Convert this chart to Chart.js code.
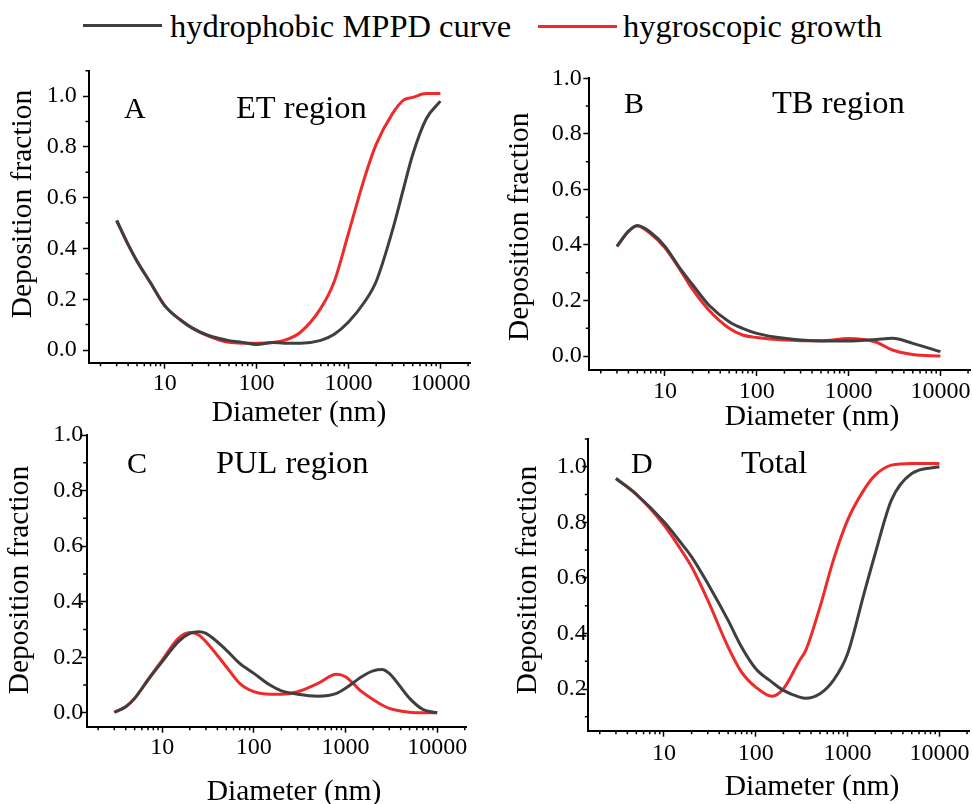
<!DOCTYPE html>
<html>
<head>
<meta charset="utf-8">
<script src="https://cdn.jsdelivr.net/npm/chart.js@4.4.1/dist/chart.umd.min.js"></script>
<style>
body { margin: 0; background: #fff; width: 973px; height: 804px; position: relative; overflow: hidden; }
canvas { position: absolute; left: 0; top: 0; }
.key { position: absolute; height: 3.5px; }
.keytext { position: absolute; font-family: 'Liberation Serif', 'Times New Roman', serif; font-size: 32.5px; line-height: 32.5px; color: #000; white-space: nowrap; }
</style>
</head>
<body>
<div id="legend"></div>
<canvas id="cA" width="973" height="804"></canvas>
<canvas id="cB" width="973" height="804"></canvas>
<canvas id="cC" width="973" height="804"></canvas>
<canvas id="cD" width="973" height="804"></canvas>
<script>
var seriesNames = ["hydrophobic MPPD curve", "hygroscopic growth"];
var seriesColors = ["#3f3f3f", "#ee2a2a"];

// A - ET region
var diamA = [3, 4, 5, 7, 10, 15, 20, 30, 50, 70, 100, 150, 200, 300, 500, 700, 1000, 1500, 2000, 3000, 4000, 5000, 7000, 10000];
var etHydrophobic = [0.51, 0.415, 0.35, 0.265, 0.175, 0.117, 0.086, 0.057, 0.037, 0.03, 0.022, 0.03, 0.027, 0.027, 0.038, 0.062, 0.11, 0.19, 0.27, 0.47, 0.64, 0.77, 0.91, 0.98];
var etHygroscopic = [0.51, 0.415, 0.35, 0.265, 0.175, 0.117, 0.086, 0.055, 0.03, 0.027, 0.027, 0.03, 0.038, 0.07, 0.165, 0.27, 0.46, 0.68, 0.81, 0.93, 0.985, 0.995, 1.01, 1.01];

// B - TB region
var diamB = [3, 4, 5, 7, 10, 15, 20, 30, 50, 70, 100, 200, 500, 1000, 2000, 3000, 5000, 10000];
var tbHydrophobic = [0.395, 0.449, 0.47, 0.445, 0.395, 0.31, 0.257, 0.184, 0.124, 0.1, 0.082, 0.064, 0.054, 0.054, 0.06, 0.064, 0.046, 0.016];
var tbHygroscopic = [0.395, 0.449, 0.468, 0.44, 0.39, 0.305, 0.24, 0.166, 0.1, 0.076, 0.067, 0.058, 0.055, 0.063, 0.05, 0.022, 0.006, 0.0];

// C - PUL region
var diamC = [3, 4, 5, 7, 10, 15, 20, 25, 30, 50, 70, 100, 150, 200, 300, 500, 800, 1000, 1500, 2000, 2500, 3000, 5000, 7000, 10000];
var pulHydrophobic = [0.002, 0.022, 0.052, 0.118, 0.184, 0.256, 0.286, 0.292, 0.286, 0.226, 0.178, 0.142, 0.1, 0.079, 0.067, 0.06, 0.07, 0.088, 0.13, 0.151, 0.156, 0.142, 0.052, 0.012, 0.0];
var pulHygroscopic = [0.002, 0.022, 0.052, 0.12, 0.19, 0.268, 0.289, 0.28, 0.256, 0.166, 0.106, 0.076, 0.067, 0.067, 0.076, 0.106, 0.139, 0.13, 0.076, 0.048, 0.028, 0.016, 0.002, 0.0, 0.0];

// D - Total
var diamD = [3, 5, 10, 15, 20, 30, 50, 70, 100, 150, 200, 300, 350, 500, 700, 1000, 1500, 2000, 3000, 5000, 10000];
var totHydrophobic = [0.958, 0.901, 0.802, 0.73, 0.676, 0.58, 0.447, 0.351, 0.273, 0.225, 0.195, 0.171, 0.167, 0.183, 0.231, 0.327, 0.54, 0.688, 0.88, 0.976, 1.0];
var totHygroscopic = [0.958, 0.901, 0.79, 0.706, 0.64, 0.52, 0.351, 0.261, 0.207, 0.174, 0.201, 0.303, 0.339, 0.495, 0.664, 0.808, 0.916, 0.97, 1.006, 1.012, 1.012];

// ticks
var xMajor = [10, 100, 1000, 10000];
var xMinor = [2, 3, 4, 5, 6, 7, 8, 9, 20, 30, 40, 50, 60, 70, 80, 90, 200, 300, 400, 500, 600, 700, 800, 900, 2000, 3000, 4000, 5000, 6000, 7000, 8000, 9000, 20000];
var yMajor = [0.0, 0.2, 0.4, 0.6, 0.8, 1.0];
var yMajorD = [0.2, 0.4, 0.6, 0.8, 1.0];
var yMinor = [0.1, 0.3, 0.5, 0.7, 0.9, 1.1];

var serif = "'Liberation Serif', 'Times New Roman', serif";

// legend
var legend = document.getElementById("legend");
var keyLeft = [83, 538];
var textLeft = [170, 623];
seriesNames.forEach(function (name, i) {
  var k = document.createElement("div");
  k.className = "key";
  k.style.left = keyLeft[i] + "px";
  k.style.top = (23.5 + i) + "px";
  k.style.width = "79px";
  k.style.background = seriesColors[i];
  legend.appendChild(k);
  var t = document.createElement("div");
  t.className = "keytext";
  t.style.left = textLeft[i] + "px";
  t.style.top = "10px";
  t.textContent = name;
  legend.appendChild(t);
});

function makeChart(id, p) {
  var W = 85;
  var H = 60;
  var extras = {
    id: "extras",
    afterDraw: function (chart) {
      var ctx = chart.ctx;
      var area = chart.chartArea;
      var xs = chart.scales.x;
      var ys = chart.scales.y;
      ctx.save();
      // minor ticks
      ctx.strokeStyle = "#000";
      ctx.lineWidth = 1.5;
      ctx.beginPath();
      xMinor.forEach(function (v) {
        var px = xs.getPixelForValue(v);
        if (px < area.left || px > area.right + 0.5) return;
        ctx.moveTo(px, area.bottom);
        ctx.lineTo(px, area.bottom + 3.5);
      });
      yMinor.forEach(function (v) {
        var py = ys.getPixelForValue(v);
        if (py < area.top - 0.5 || py > area.bottom) return;
        ctx.moveTo(area.left, py);
        ctx.lineTo(area.left - 3.5, py);
      });
      ctx.stroke();
      // tick labels
      ctx.fillStyle = "#000";
      ctx.font = "24px " + serif;
      ctx.textBaseline = "middle";
      ctx.textAlign = "center";
      xMajor.forEach(function (v) {
        ctx.fillText(String(v), xs.getPixelForValue(v), area.bottom + p.xLab);
      });
      ctx.textAlign = "right";
      p.yTicks.forEach(function (v) {
        ctx.fillText(v.toFixed(1), area.left - p.yLab, ys.getPixelForValue(v));
      });
      // panel labels
      ctx.textBaseline = "alphabetic";
      ctx.textAlign = "left";
      ctx.font = "30px " + serif;
      ctx.fillText(p.letter, p.letterX, p.labelY);
      ctx.font = "32.5px " + serif;
      ctx.fillText(p.region, p.regionX, p.labelY);
      // axis titles
      ctx.font = "29.5px " + serif;
      ctx.textAlign = "center";
      ctx.textBaseline = "middle";
      ctx.fillText("Diameter (nm)", p.xTitle[0], p.xTitle[1]);
      ctx.translate(p.yTitle[0] - 3, p.yTitle[1]);
      ctx.rotate(-Math.PI / 2);
      ctx.fillText("Deposition fraction", 0, 0);
      ctx.restore();
    }
  };
  return new Chart(document.getElementById(id), {
    type: "line",
    data: {
      datasets: [
        {
          label: seriesNames[0],
          data: p.x.map(function (d, i) { return { x: d, y: p.black[i] }; }),
          borderColor: seriesColors[0],
          borderWidth: 3,
          pointRadius: 0,
          tension: 0.4,
          cubicInterpolationMode: "monotone",
        },
        {
          label: seriesNames[1],
          data: p.x.map(function (d, i) { return { x: d, y: p.red[i] }; }),
          borderColor: seriesColors[1],
          borderWidth: 3,
          pointRadius: 0,
          tension: 0.4,
          cubicInterpolationMode: "monotone",
        },
      ],
    },
    options: {
      responsive: false,
      animation: false,
      layout: {
        padding: { left: p.box[0] - W, top: p.box[1], right: 973 - p.box[2], bottom: 804 - p.box[3] - H },
      },
      plugins: { legend: { display: false }, tooltip: { enabled: false } },
      scales: {
        x: {
          type: "logarithmic",
          min: 1.5,
          max: 21000,
          afterBuildTicks: function (s) { s.ticks = xMajor.map(function (v) { return { value: v }; }); },
          afterFit: function (s) { s.height = H; },
          border: { color: "#000", width: 2 },
          grid: { drawOnChartArea: false, tickLength: 6, tickColor: "#000", tickWidth: 1.5 },
          ticks: { display: false, autoSkip: false },
        },
        y: {
          min: p.yRange[0],
          max: p.yRange[1],
          afterBuildTicks: function (s) { s.ticks = p.yTicks.map(function (v) { return { value: v }; }); },
          afterFit: function (s) { s.width = W; },
          border: { color: "#000", width: 2 },
          grid: { drawOnChartArea: false, tickLength: 6, tickColor: "#000", tickWidth: 1.5 },
          ticks: { display: false, autoSkip: false },
        },
      },
    },
    plugins: [extras],
  });
}

makeChart("cA", {
  x: diamA, black: etHydrophobic, red: etHygroscopic,
  box: [89, 70.7, 470, 362.7], yRange: [-0.05, 1.1], yTicks: yMajor,
  xLab: 21.3, yLab: 12.3, letter: "A", region: "ET region", letterX: 124, regionX: 236, labelY: 118,
  xTitle: [299, 413], yTitle: [26, 204],
});
makeChart("cB", {
  x: diamB, black: tbHydrophobic, red: tbHygroscopic,
  box: [589.3, 78.3, 970, 370], yRange: [-0.05, 1.0], yTicks: yMajor,
  xLab: 22, yLab: 7.6, letter: "B", region: "TB region", letterX: 624, regionX: 772, labelY: 113,
  xTitle: [812, 417], yTitle: [523, 226.7],
});
makeChart("cC", {
  x: diamC, black: pulHydrophobic, red: pulHygroscopic,
  box: [86.7, 435, 466.7, 726.7], yRange: [-0.05, 1.0], yTicks: yMajor,
  xLab: 21.3, yLab: 3.4, letter: "C", region: "PUL region", letterX: 127, regionX: 216, labelY: 473,
  xTitle: [294, 792], yTitle: [23, 580],
});
makeChart("cD", {
  x: diamD, black: totHydrophobic, red: totHygroscopic,
  box: [588.3, 439, 969, 730.7], yRange: [0.05, 1.1], yTicks: yMajorD,
  xLab: 23, yLab: 1.6, letter: "D", region: "Total", letterX: 631, regionX: 741, labelY: 473,
  xTitle: [812, 787], yTitle: [531, 580],
});
</script>
</body>
</html>
